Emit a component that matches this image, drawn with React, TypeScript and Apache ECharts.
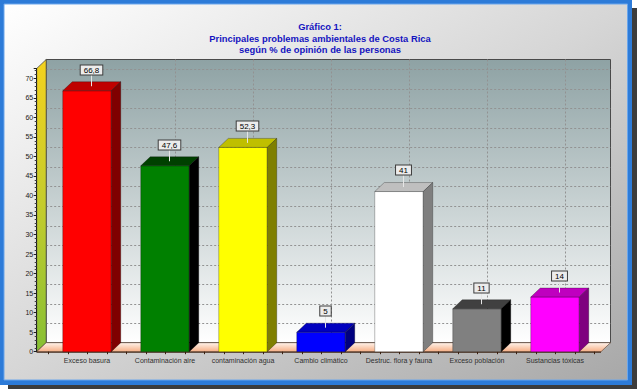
import React, { useEffect, useRef } from "react";
import * as echarts from "echarts";

const categories = [
  "Exceso basura",
  "Contaminación aire",
  "contaminación agua",
  "Cambio climático",
  "Destruc. flora y fauna",
  "Exceso población",
  "Sustancias tóxicas",
];
const values = [66.8, 47.6, 52.3, 5, 41, 11, 14];
const frontColors = ["#ff0000", "#008000", "#ffff00", "#0000ff", "#ffffff", "#808080", "#ff00ff"];
const topColors = ["#bf0000", "#004000", "#bfbf00", "#0000bf", "#bfbfbf", "#404040", "#bf00bf"];
const sideColors = ["#7f0000", "#000000", "#7f7f00", "#00007f", "#7f7f7f", "#000000", "#7f007f"];
const yTicks = [0, 5, 10, 15, 20, 25, 30, 35, 40, 45, 50, 55, 60, 65, 70];
const titleLines = [
  "Gráfico 1:",
  "Principales problemas ambientales de Costa Rica",
  "según % de opinión de las personas",
];

const Y_MAX = 72.5;
const DX = 9.5;
const DY = 9;
const BAR_W = 48.5;
const FONT = "Liberation Sans, Arial, sans-serif";

function renderDecor(_params: any, api: any) {
  const o = api.coord([0, 0]);
  const top = api.coord([0, Y_MAX])[1];
  const band = api.size([1, 0])[0];
  const y0 = o[1];
  const bandL = o[0] - band / 2;
  const bandR = bandL + categories.length * band;
  const fl = bandL - 11.3;
  const fr = bandR + 7;
  const children: any[] = [];
  children.push({
    type: "rect",
    shape: { x: fl + DX, y: top - DY, width: fr - fl, height: y0 - top },
    style: {
      fill: new echarts.graphic.LinearGradient(0, 0, 0, 1, [
        { offset: 0, color: "#8ea2a4" },
        { offset: 1, color: "#ffffff" },
      ]),
      stroke: "#4a4a4a",
      lineWidth: 1,
    },
  });
  yTicks.forEach((v) => {
    const y = Math.round(api.coord([0, v])[1] - DY) + 0.5;
    children.push({
      type: "line",
      shape: { x1: fl + DX, y1: y, x2: fr + DX, y2: y },
      style: { stroke: "#929292", lineWidth: 1, lineDash: [2, 2] },
    });
  });
  categories.forEach((_c, i) => {
    if (i === 0) return;
    const x = Math.round(api.coord([i, 0])[0] + DX) + 0.5;
    children.push({
      type: "line",
      shape: { x1: x, y1: top - DY, x2: x, y2: y0 - DY },
      style: { stroke: "#929292", lineWidth: 1, lineDash: [2, 2] },
    });
  });
  children.push({
    type: "polygon",
    shape: {
      points: [
        [fl, top],
        [fl + DX, top - DY],
        [fl + DX, y0 - DY],
        [fl, y0],
      ],
    },
    style: {
      fill: new echarts.graphic.LinearGradient(0, 0, 0, 1, [
        { offset: 0, color: "#f4d21e" },
        { offset: 0.5, color: "#c4cc2c" },
        { offset: 1, color: "#86c034" },
      ]),
      stroke: "#4a4a4a",
      lineWidth: 0.8,
    },
  });
  children.push({
    type: "polygon",
    shape: {
      points: [
        [fl, y0],
        [fl + DX, y0 - DY],
        [fr + DX, y0 - DY],
        [fr, y0],
      ],
    },
    style: {
      fill: new echarts.graphic.LinearGradient(0, 0, 0, 1, [
        { offset: 0, color: "#fff4ec" },
        { offset: 1, color: "#f6ae84" },
      ]),
      stroke: "#5a3a28",
      lineWidth: 0.6,
    },
  });
  children.push({
    type: "line",
    shape: { x1: fl, y1: y0 + 0.5, x2: fr, y2: y0 + 0.5 },
    style: { stroke: "#3a2010", lineWidth: 1 },
  });
  const n = categories.length * 4;
  for (let k = 0; k <= n; k++) {
    const x = Math.round(bandL + (k * band) / 4) + 0.5;
    children.push({
      type: "line",
      shape: { x1: x, y1: y0, x2: x, y2: y0 + 2.5 },
      style: { stroke: "#3a2010", lineWidth: 1 },
    });
  }
  return { type: "group", children };
}

function renderBar(params: any, api: any) {
  const i = api.value(0);
  const v = api.value(1);
  const p = api.coord([i, v]);
  const b = api.coord([i, 0]);
  const xL = p[0] - BAR_W / 2;
  const xR = p[0] + BAR_W / 2;
  const yT = p[1];
  const yB = b[1];
  const edge = "rgba(0,0,0,0.45)";
  const label = String(values[params.dataIndex]).replace(".", ",");
  const lx = p[0] + 4;
  const ly = yT - DY / 2;
  return {
    type: "group",
    children: [
      {
        type: "rect",
        shape: { x: xL, y: yT, width: BAR_W, height: yB - yT },
        style: { fill: frontColors[params.dataIndex], stroke: edge, lineWidth: 0.6 },
      },
      {
        type: "polygon",
        shape: { points: [[xL, yT], [xL + DX, yT - DY], [xR + DX, yT - DY], [xR, yT]] },
        style: { fill: topColors[params.dataIndex], stroke: edge, lineWidth: 0.6 },
      },
      {
        type: "polygon",
        shape: { points: [[xR, yT], [xR + DX, yT - DY], [xR + DX, yB - DY], [xR, yB]] },
        style: { fill: sideColors[params.dataIndex], stroke: edge, lineWidth: 0.6 },
      },
      {
        type: "line",
        shape: { x1: Math.round(lx) + 0.5, y1: ly, x2: Math.round(lx) + 0.5, y2: ly - 12 },
        style: { stroke: "#e6e6e6", lineWidth: 1 },
      },
      {
        type: "text",
        x: Math.round(lx) + 0.5,
        y: Math.round(ly - 16.7),
        style: {
          text: label,
          fontSize: 8,
          fontFamily: FONT,
          fill: "#000000",
          align: "center",
          verticalAlign: "middle",
          lineHeight: 8,
          padding: [1, 3, 0, 3],
          backgroundColor: "#ececec",
          borderColor: "#3c3c3c",
          borderWidth: 1,
        },
      },
    ],
  };
}

export default function App() {
  const ref = useRef<HTMLDivElement>(null);
  useEffect(() => {
    if (!ref.current) return;
    const chart = echarts.init(ref.current, undefined, { renderer: "svg" });
    chart.setOption({
      animation: false,
      backgroundColor: "#ffffff",
      title: {
        text: titleLines.join("\n"),
        left: "center",
        top: 16,
        textStyle: {
          fontSize: 9.4,
          fontWeight: "bold",
          fontFamily: FONT,
          color: "#1414c0",
          lineHeight: 11.5,
        },
      },
      graphic: [
        { type: "rect", z: -100, shape: { x: 8, y: 8, width: 629, height: 381 }, style: { fill: "#3c3c3c" } },
        { type: "rect", z: -99, shape: { x: 0, y: 0, width: 632, height: 385 }, style: { fill: "#2d7bd8" } },
        {
          type: "rect",
          z: -98,
          shape: { x: 4, y: 4, width: 623.5, height: 376 },
          style: {
            fill: new echarts.graphic.LinearGradient(0, 0, 1, 1, [
              { offset: 0, color: "#ffffff" },
              { offset: 0.5, color: "#d6d6d6" },
              { offset: 1, color: "#a8a8a8" },
            ]),
            stroke: "#6aa6ec",
            lineWidth: 1,
          },
        },
      ],
      grid: { left: 48, right: 46, top: 68.5, bottom: 39.3 },
      xAxis: {
        type: "category",
        data: categories,
        axisLine: { show: false },
        axisTick: { show: false },
        axisLabel: { fontSize: 7, fontFamily: FONT, color: "#303030", margin: 5.5, interval: 0 },
        splitLine: { show: false },
      },
      yAxis: {
        type: "value",
        min: 0,
        max: Y_MAX,
        interval: 5,
        offset: 11.3,
        z: 5,
        axisLine: { show: true, lineStyle: { color: "#202020", width: 1 } },
        axisTick: { show: true, length: 3, lineStyle: { color: "#202020" } },
        minorTick: { show: true, splitNumber: 5, length: 2, lineStyle: { color: "#404040" } },
        axisLabel: { fontSize: 7, fontFamily: FONT, color: "#202020", margin: 3.5, showMaxLabel: false },
        splitLine: { show: false },
      },
      series: [
        {
          type: "custom",
          z: 1,
          renderItem: renderDecor,
          data: [[0, 0]],
          silent: true,
        },
        {
          type: "custom",
          z: 3,
          renderItem: renderBar,
          data: values.map((v, i) => [i, v]),
        },
      ],
    });
    return () => chart.dispose();
  }, []);
  return (
    <div
      ref={ref}
      style={{ position: "fixed", left: 0, top: 0, width: 640, height: 391 }}
    />
  );
}
